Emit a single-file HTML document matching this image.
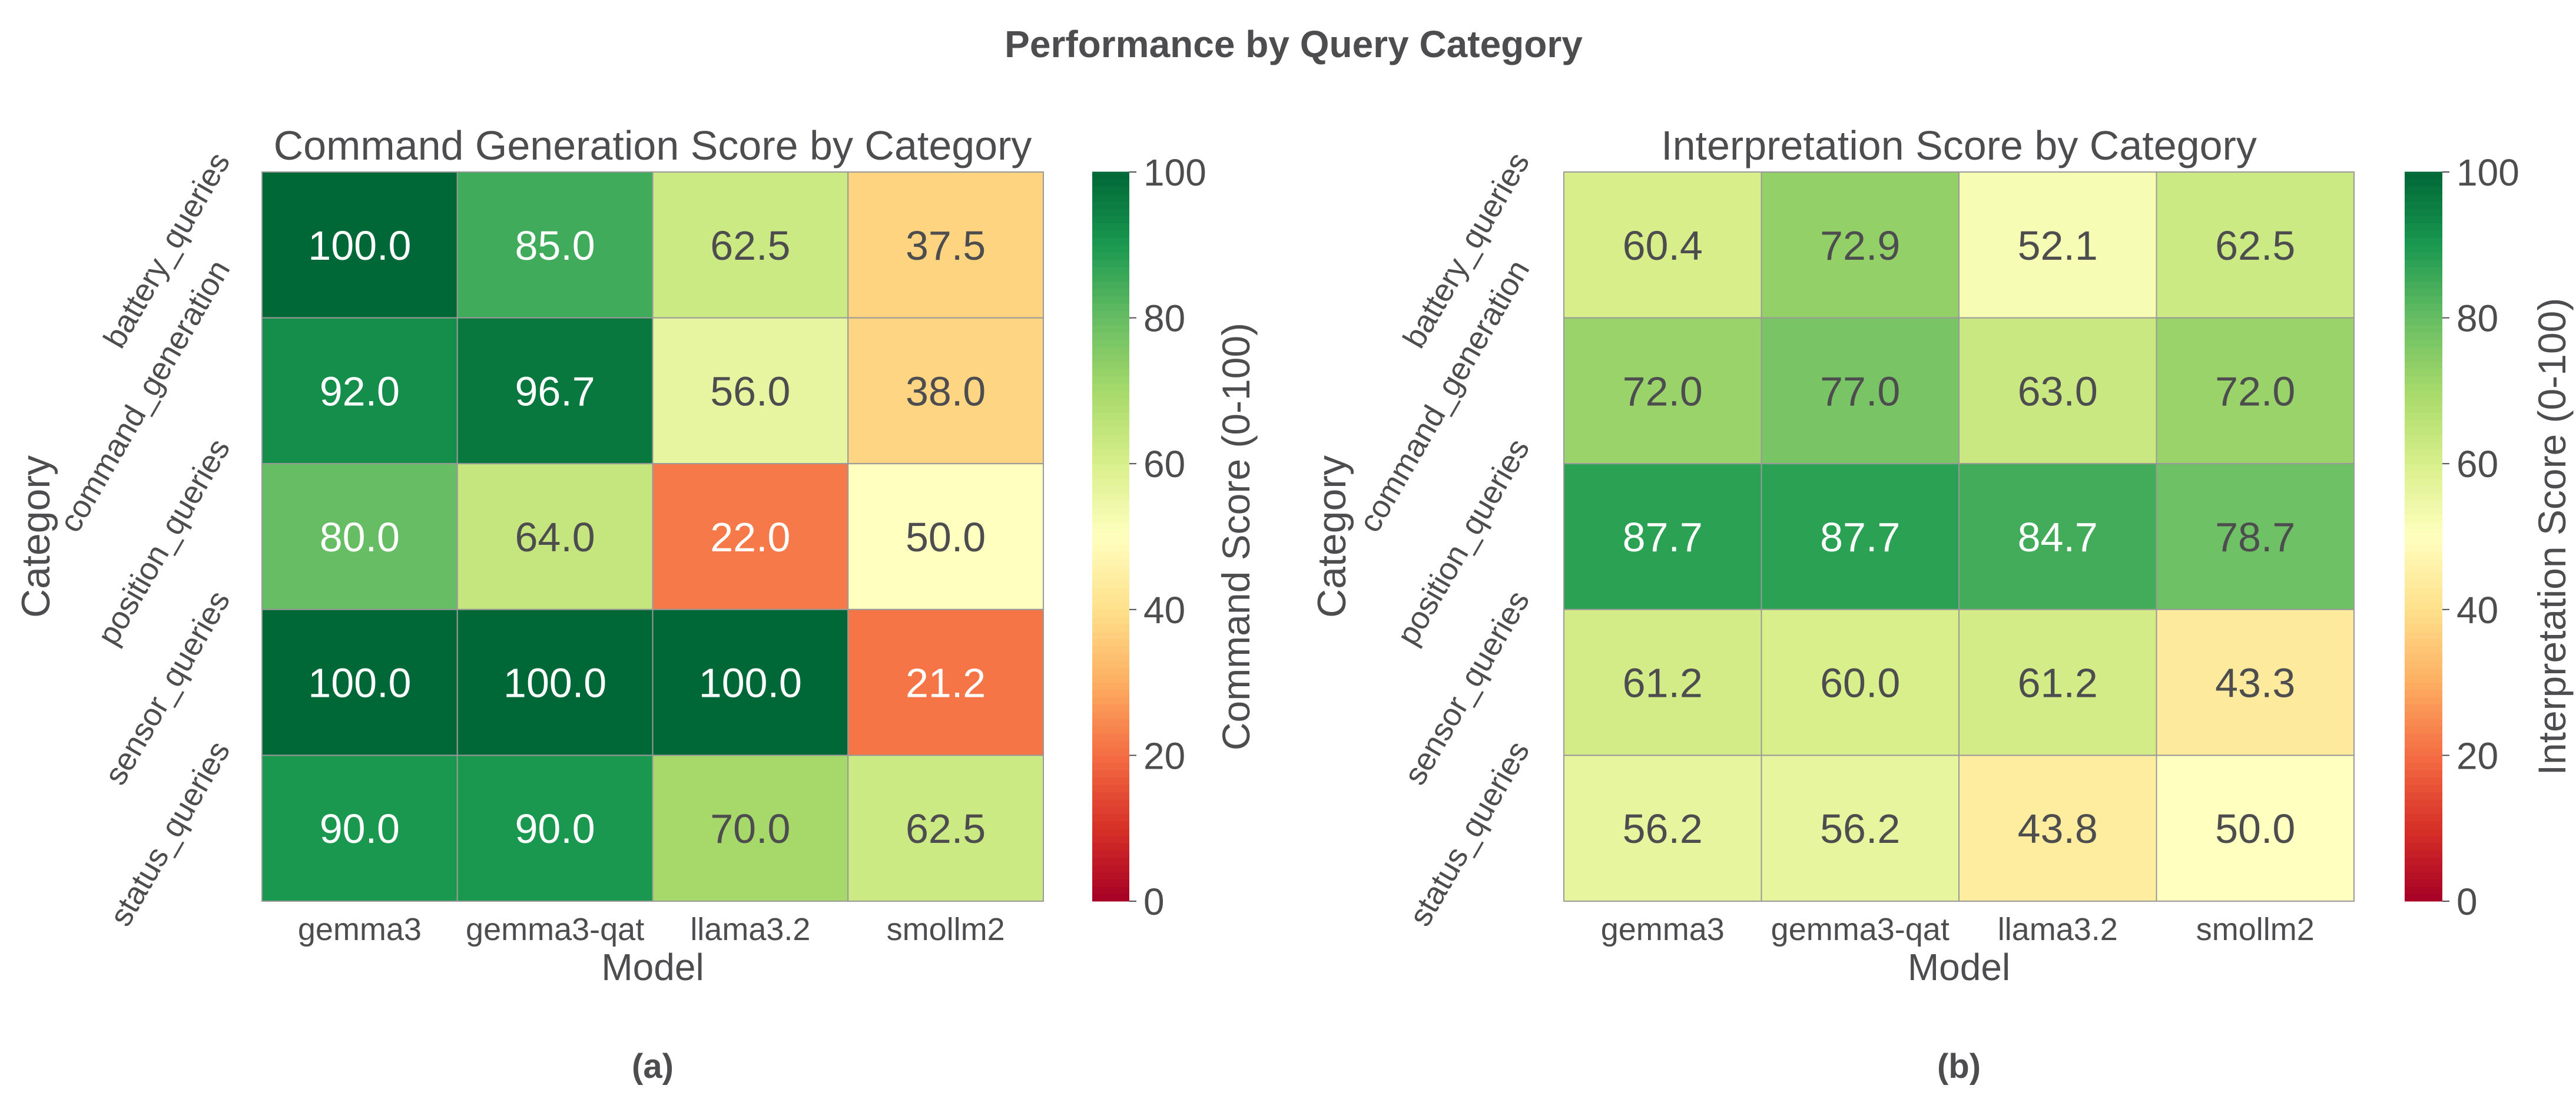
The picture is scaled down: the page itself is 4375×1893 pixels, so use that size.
<!DOCTYPE html>
<html><head><meta charset="utf-8"><style>
html,body{margin:0;padding:0;background:#fff;}
svg{display:block;font-family:"Liberation Sans",Arial,sans-serif;}
</style></head><body>
<svg id="fig" width="4375" height="1893" viewBox="0 0 4375 1893">
<text x="2197" y="97" text-anchor="middle" font-size="64" font-weight="bold" fill="#4d4d4f">Performance by Query Category</text>
</svg>
<script>
const models = ["gemma3","gemma3-qat","llama3.2","smollm2"];
const categories = ["battery_queries","command_generation","position_queries","sensor_queries","status_queries"];
const commandScores = [
  [100.0,85.0,62.5,37.5],
  [92.0,96.7,56.0,38.0],
  [80.0,64.0,22.0,50.0],
  [100.0,100.0,100.0,21.2],
  [90.0,90.0,70.0,62.5]
];
const interpScores = [
  [60.4,72.9,52.1,62.5],
  [72.0,77.0,63.0,72.0],
  [87.7,87.7,84.7,78.7],
  [61.2,60.0,61.2,43.3],
  [56.2,56.2,43.8,50.0]
];
const cbTicks = [0,20,40,60,80,100];

const NS="http://www.w3.org/2000/svg";
const svg=document.getElementById('fig');
const TXT="#4d4d4f";
const stops=["#a50026","#d73027","#f46d43","#fdae61","#fee08b","#ffffbf","#d9ef8b","#a6d96a","#66bd63","#1a9850","#006837"];
function hex(h){return [parseInt(h.substr(1,2),16),parseInt(h.substr(3,2),16),parseInt(h.substr(5,2),16)];}
function cmap(v){let t=Math.max(0,Math.min(1,v/100))*10;let i=Math.min(9,Math.floor(t));let f=t-i;
 let a=hex(stops[i]),b=hex(stops[i+1]);return a.map((x,k)=>Math.round(x+(b[k]-x)*f));}
function lum(c){const r=c.map(x=>{x/=255;return x<=0.03928?x/12.92:Math.pow((x+0.055)/1.055,2.4);});return 0.2126*r[0]+0.7152*r[1]+0.0722*r[2];}
function el(tag,attrs,parent){const e=document.createElementNS(NS,tag);for(const k in attrs)e.setAttribute(k,attrs[k]);(parent||svg).appendChild(e);return e;}

function panel(p){
 const g=el('g',{});
 
 
 const nR=categories.length,nC=models.length;
 const cw=(p.x1-p.x0)/nC,ch=(p.y1-p.y0)/nR;
 const xs=j=>p.x0+j*cw, ys=i=>p.y0+i*ch;
 p.data.forEach((row,i)=>row.forEach((v,j)=>{
  const c=cmap(v);
  const r=el('rect',{x:xs(j),y:ys(i),width:cw,height:ch,fill:`rgb(${c})`,stroke:"#999",'stroke-width':2},g);
  
  
  const t=el('text',{x:xs(j)+cw/2,y:ys(i)+ch/2+25,'text-anchor':'middle','font-size':70,fill:lum(c)>0.408?TXT:"#fff"},g);
  t.textContent=v.toFixed(1);
  
  
 }));
 const tt=el('text',{x:(p.x0+p.x1)/2,y:271,'text-anchor':'middle','font-size':70,fill:TXT},g);
 tt.textContent=p.title;
 
 
 models.forEach((m,j)=>{
  const t=el('text',{x:xs(j)+cw/2,y:p.y1+66,'text-anchor':'middle','font-size':54,fill:TXT},g);
  t.textContent=m;
  
  
 });
 const xl=el('text',{x:(p.x0+p.x1)/2,y:p.y1+134,'text-anchor':'middle','font-size':64,fill:TXT},g);
 xl.textContent="Model";
 
 
 categories.forEach((c,i)=>{
  const yc=ys(i)+ch/2;
  const t=el('text',{'text-anchor':'end','font-size':54,fill:TXT},g);
  t.textContent=c;
  
  
  const L=t.getComputedTextLength();
  const x0=p.tickRight-22, y0=yc-L/2*0.866+18;
  t.setAttribute('x',x0);t.setAttribute('y',y0);
  t.setAttribute('transform',`rotate(-60 ${x0} ${y0})`);
 });
 const yl=el('text',{x:p.catX,y:(p.y0+p.y1)/2,'text-anchor':'middle','font-size':68,fill:TXT,transform:`rotate(-90 ${p.catX} ${(p.y0+p.y1)/2})`},g);
 yl.textContent="Category";
 
 
 // colorbar
 const N=100,bh=(p.y1-p.y0)/N;
 for(let k=0;k<N;k++){
  const c=cmap((k+0.5));
  el('rect',{x:p.cb0,y:p.y1-(k+1)*bh-0.5,width:p.cb1-p.cb0,height:bh+1,fill:`rgb(${c})`},g);
 }
 const cy=v=>p.y1-(v/100)*(p.y1-p.y0);
 cbTicks.forEach(v=>{
  el('line',{x1:p.cb1,x2:p.cb1+12,y1:cy(v),y2:cy(v),stroke:TXT,'stroke-width':2},g);
  const t=el('text',{x:p.cb1+24,y:cy(v)+23,'font-size':64,fill:TXT},g);
  t.textContent=v;
  
  
 });
 const cl=el('text',{x:p.cbLabelX,y:(p.y0+p.y1)/2,'text-anchor':'middle','font-size':66,fill:TXT,transform:`rotate(-90 ${p.cbLabelX} ${(p.y0+p.y1)/2})`},g);
 cl.textContent=p.cbLabel;
 
 
 const pl=el('text',{x:(p.x0+p.x1)/2,y:1830,'text-anchor':'middle','font-size':58,'font-weight':'bold',fill:TXT},g);
 pl.textContent=p.panel;
 
 
}
panel({name:'command-heatmap',data:commandScores,x0:445,x1:1772,y0:292,y1:1530,title:"Command Generation Score by Category",
 tickRight:414,catX:84,cb0:1855,cb1:1918,cbLabel:"Command Score (0-100)",cbLabelX:2122,panel:"(a)"});
panel({name:'interpretation-heatmap',data:interpScores,x0:2656,x1:3998,y0:292,y1:1530,title:"Interpretation Score by Category",
 tickRight:2621,catX:2285,cb0:4084,cb1:4148,cbLabel:"Interpretation Score (0-100)",cbLabelX:4357,panel:"(b)"});
</script>
</body></html>
